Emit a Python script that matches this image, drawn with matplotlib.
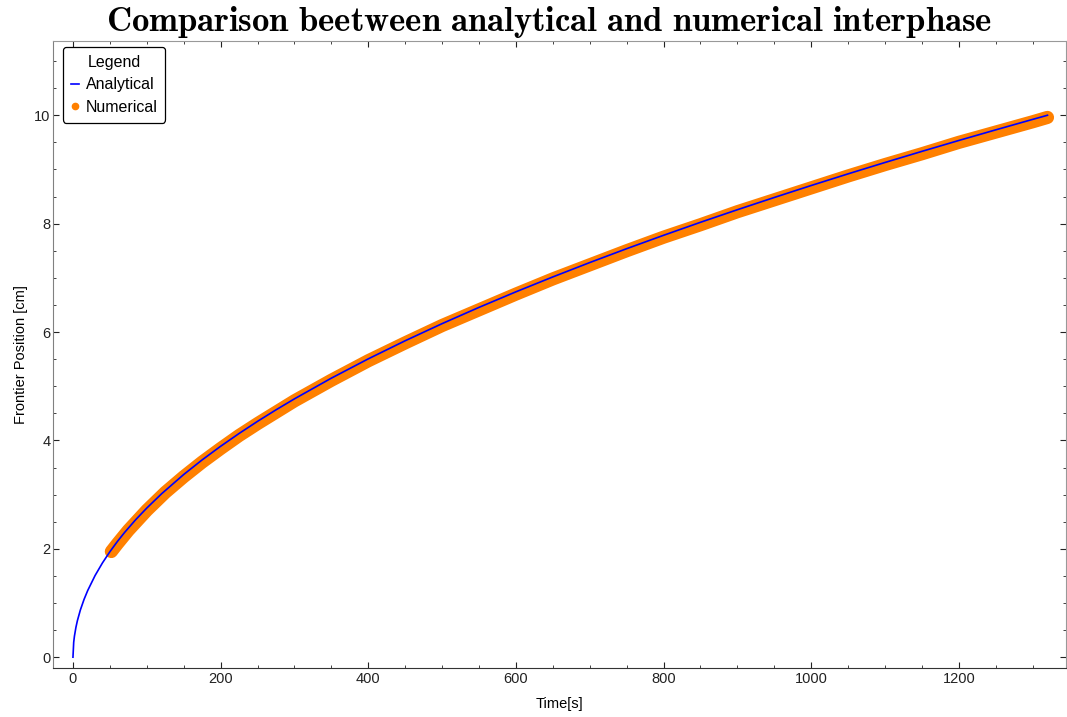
import matplotlib
matplotlib.use("Agg")
import matplotlib.pyplot as plt
from matplotlib.lines import Line2D
from matplotlib.ticker import MultipleLocator

plt.rcParams["font.family"] = ["Liberation Sans", "DejaVu Sans"]
plt.rcParams["mathtext.fontset"] = "cm"

# analytical interface position
t_analytical = [0, 1, 2, 4, 6, 10, 15, 20, 30, 40, 50, 60, 70, 85, 100, 120,
                150, 175, 200, 225, 250, 275, 300, 350, 400, 450, 500, 550,
                600, 650, 700, 750, 800, 850, 900, 950, 1000, 1050, 1100, 1150,
                1200, 1250, 1300, 1320]
x_analytical = [0.0, 0.275, 0.389, 0.550, 0.674, 0.870, 1.066, 1.231, 1.508,
                1.741, 1.946, 2.132, 2.303, 2.538, 2.752, 3.015, 3.371, 3.641,
                3.892, 4.128, 4.352, 4.564, 4.767, 5.149, 5.505, 5.839, 6.155,
                6.455, 6.742, 7.017, 7.282, 7.538, 7.785, 8.025, 8.257, 8.483,
                8.704, 8.919, 9.129, 9.334, 9.535, 9.731, 9.924, 10.0]

# numerical interface position
t_numerical = [52, 60, 75, 100, 125, 150, 175, 200, 225, 250, 275, 300, 350,
               400, 450, 500, 550, 600, 650, 700, 750, 800, 850, 900, 950,
               1000, 1050, 1100, 1150, 1200, 1250, 1300, 1320]
x_numerical = [1.95, 2.09, 2.34, 2.71, 3.04, 3.33, 3.60, 3.85, 4.09, 4.31,
               4.52, 4.73, 5.11, 5.47, 5.80, 6.12, 6.41, 6.70, 6.98, 7.24,
               7.50, 7.75, 7.98, 8.22, 8.44, 8.66, 8.88, 9.09, 9.29, 9.50,
               9.69, 9.88, 9.96]

orange = "#ff8000"
blue = "#0000ff"

fig = plt.figure(figsize=(10.67, 7.17), dpi=100)
ax = fig.add_axes([0.0497, 0.0683, 0.9493, 0.8745])

ax.plot(t_numerical, x_numerical, color=orange, lw=9.5, solid_capstyle="round",
        solid_joinstyle="round", zorder=2)
ax.plot(t_analytical, x_analytical, color=blue, lw=1.2, zorder=3)

ax.set_xlim(-27, 1345)
ax.set_ylim(-0.2, 11.37)
ax.xaxis.set_major_locator(MultipleLocator(200))
ax.xaxis.set_minor_locator(MultipleLocator(50))
ax.yaxis.set_major_locator(MultipleLocator(2))
ax.yaxis.set_minor_locator(MultipleLocator(0.5))
ax.tick_params(which="both", direction="in", top=True, right=True,
               labelsize=10.5, colors="#222222", pad=3)
ax.tick_params(which="major", length=4, width=0.8)
ax.tick_params(which="minor", length=2, width=0.6)
ax.tick_params(axis="y", which="both", pad=2)

ax.spines["left"].set_color("#808080")
ax.spines["bottom"].set_color("#333333")
ax.spines["top"].set_color("#999999")
ax.spines["right"].set_color("#999999")

ax.set_xlabel("Time[s]", fontsize=10.5, labelpad=8)
ax.set_ylabel("Frontier Position [cm]", fontsize=10.5, labelpad=4)

fig.suptitle(r"$\mathbf{Comparison\ beetween\ analytical\ and\ numerical\ interphase}$",
             fontsize=25, x=0.515, y=0.995, va="top")

handles = [
    Line2D([0], [0], color=blue, lw=1.2),
    Line2D([0], [0], color=orange, lw=0, marker="o", markersize=4.5),
]
leg = ax.legend(handles, ["Analytical", "Numerical"], title="Legend",
                loc="upper left", fontsize=11.5, title_fontsize=11.5,
                handlelength=0.5, handletextpad=0.4, borderpad=0.5,
                labelspacing=0.45, fancybox=True, framealpha=1,
                borderaxespad=0, bbox_to_anchor=(0.01, 0.99))
leg.get_frame().set_edgecolor("black")
leg.get_frame().set_linewidth(0.9)

fig.savefig("out.png", dpi=100)
